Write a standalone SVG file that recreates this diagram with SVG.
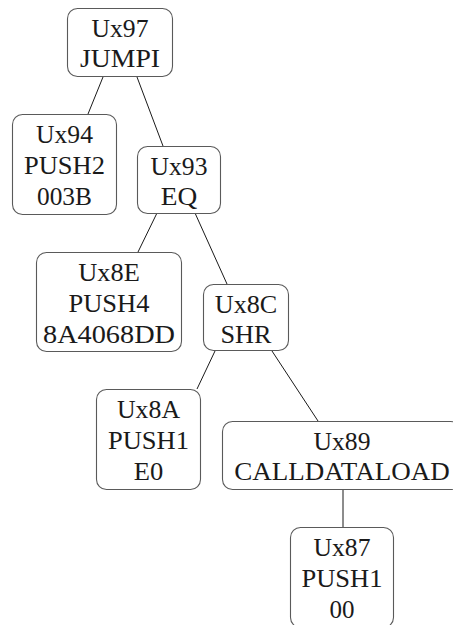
<svg xmlns="http://www.w3.org/2000/svg" width="453" height="625" viewBox="0 0 453 625">
  <style>
    .box { fill: #ffffff; stroke: #5a5a5a; stroke-width: 1.1; }
    .lbl { font-family: "Liberation Serif", serif; font-size: 25px; fill: #1a1a1a; text-anchor: middle; }
    .edge { stroke: #1a1a1a; stroke-width: 1; fill: none; }
  </style>
  <rect width="453" height="625" fill="#ffffff"/>

  <g id="edges">
    <line class="edge" x1="103" y1="77" x2="88" y2="114"/>
    <line class="edge" x1="137" y1="77" x2="163" y2="146"/>
    <line class="edge" x1="157" y1="213" x2="138" y2="252"/>
    <line class="edge" x1="195" y1="213" x2="227" y2="284"/>
    <line class="edge" x1="215" y1="351" x2="197" y2="389"/>
    <line class="edge" x1="272" y1="351" x2="318" y2="421"/>
    <line class="edge" x1="343" y1="490" x2="343" y2="527"/>
  </g>

  <g id="n97">
    <rect class="box" x="67.5" y="8.5" width="105" height="68" rx="10"/>
    <text class="lbl" font-family="Liberation Serif" x="120" y="37" textLength="57" lengthAdjust="spacingAndGlyphs">Ux97</text>
    <text class="lbl" font-family="Liberation Serif" x="120" y="67" textLength="80" lengthAdjust="spacingAndGlyphs">JUMPI</text>
  </g>

  <g id="n94">
    <rect class="box" x="12.5" y="114.5" width="104" height="100" rx="10"/>
    <text class="lbl" font-family="Liberation Serif" x="64.5" y="143" textLength="57" lengthAdjust="spacingAndGlyphs">Ux94</text>
    <text class="lbl" font-family="Liberation Serif" x="64.5" y="174" textLength="81" lengthAdjust="spacingAndGlyphs">PUSH2</text>
    <text class="lbl" font-family="Liberation Serif" x="64.5" y="205" textLength="55" lengthAdjust="spacingAndGlyphs">003B</text>
  </g>

  <g id="n93">
    <rect class="box" x="137.5" y="146.5" width="83" height="67" rx="10"/>
    <text class="lbl" font-family="Liberation Serif" x="179" y="175" textLength="57" lengthAdjust="spacingAndGlyphs">Ux93</text>
    <text class="lbl" font-family="Liberation Serif" x="179" y="205" textLength="36.5" lengthAdjust="spacingAndGlyphs">EQ</text>
  </g>

  <g id="n8E">
    <rect class="box" x="36.5" y="252.5" width="145" height="99" rx="10"/>
    <text class="lbl" font-family="Liberation Serif" x="109" y="281" textLength="61.5" lengthAdjust="spacingAndGlyphs">Ux8E</text>
    <text class="lbl" font-family="Liberation Serif" x="109" y="312" textLength="81" lengthAdjust="spacingAndGlyphs">PUSH4</text>
    <text class="lbl" font-family="Liberation Serif" x="109" y="343" textLength="132" lengthAdjust="spacingAndGlyphs">8A4068DD</text>
  </g>

  <g id="n8C">
    <rect class="box" x="203.5" y="284.5" width="85" height="66" rx="10"/>
    <text class="lbl" font-family="Liberation Serif" x="246" y="313" textLength="62.5" lengthAdjust="spacingAndGlyphs">Ux8C</text>
    <text class="lbl" font-family="Liberation Serif" x="246" y="343" textLength="51" lengthAdjust="spacingAndGlyphs">SHR</text>
  </g>

  <g id="n8A">
    <rect class="box" x="96.5" y="389.5" width="104" height="100" rx="10"/>
    <text class="lbl" font-family="Liberation Serif" x="148.5" y="418" textLength="63" lengthAdjust="spacingAndGlyphs">Ux8A</text>
    <text class="lbl" font-family="Liberation Serif" x="148.5" y="449" textLength="81" lengthAdjust="spacingAndGlyphs">PUSH1</text>
    <text class="lbl" font-family="Liberation Serif" x="148.5" y="480" textLength="29.5" lengthAdjust="spacingAndGlyphs">E0</text>
  </g>

  <g id="n89">
    <rect class="box" x="222.5" y="421.5" width="238" height="68" rx="10"/>
    <text class="lbl" font-family="Liberation Serif" x="342" y="450" textLength="57" lengthAdjust="spacingAndGlyphs">Ux89</text>
    <text class="lbl" font-family="Liberation Serif" x="342" y="480" textLength="215.6" lengthAdjust="spacingAndGlyphs">CALLDATALOAD</text>
  </g>

  <g id="n87">
    <rect class="box" x="290.5" y="527.5" width="103" height="100" rx="10"/>
    <text class="lbl" font-family="Liberation Serif" x="342" y="556" textLength="57" lengthAdjust="spacingAndGlyphs">Ux87</text>
    <text class="lbl" font-family="Liberation Serif" x="342" y="587" textLength="81" lengthAdjust="spacingAndGlyphs">PUSH1</text>
    <text class="lbl" font-family="Liberation Serif" x="342" y="618" textLength="25" lengthAdjust="spacingAndGlyphs">00</text>
  </g>
</svg>
